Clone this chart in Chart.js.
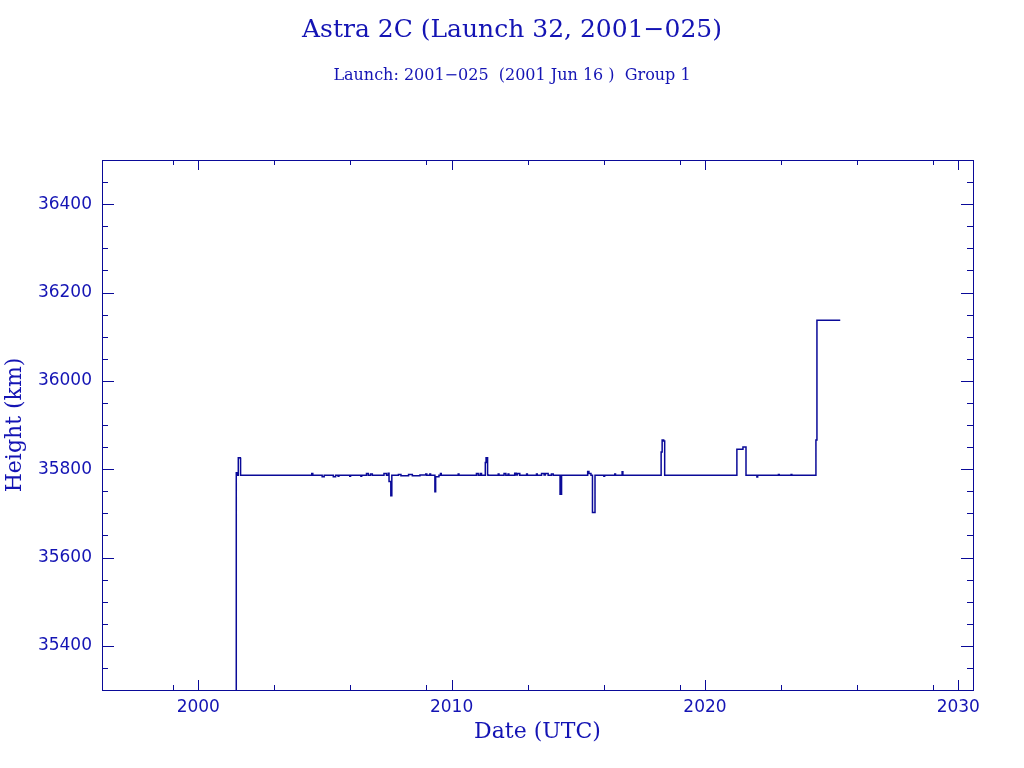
<!DOCTYPE html>
<html><head><meta charset="utf-8">
<script src="https://cdn.jsdelivr.net/npm/chart.js@4.4.1/dist/chart.umd.min.js"></script>
<style>html,body{margin:0;padding:0;background:#fff}#wrap{width:1024px;height:768px}</style>
</head><body><div id="wrap"><canvas id="c" width="1024" height="768"></canvas></div>
<script>
// ---- data (years, height in km) ----
const years = [
 2001.50,2001.50,2001.54,2001.58,2001.66,2001.67,
 2004.48,2004.52,2004.89,2004.97,2005.33,2005.42,2005.52,2005.55,2005.98,2006.01,
 2006.42,2006.45,2006.64,2006.71,2006.80,2006.87,2007.33,2007.43,2007.50,2007.53,
 2007.60,2007.64,2007.90,2008.00,2008.30,2008.45,2008.75,2008.98,2009.02,2009.14,
 2009.17,2009.34,2009.37,2009.50,2009.56,2009.59,2010.26,2010.29,2010.98,2011.05,
 2011.13,2011.18,2011.33,2011.36,2011.42,2011.45,2011.84,2011.87,2012.07,2012.14,
 2012.23,2012.26,2012.49,2012.55,2012.60,2012.69,2012.96,2012.99,2013.35,2013.38,
 2013.55,2013.65,2013.70,2013.81,2013.94,2014.01,2014.28,2014.34,2015.37,2015.42,
 2015.50,2015.56,2015.66,2016.01,2016.04,2016.44,2016.47,2016.73,2016.76,2018.27,
 2018.31,2018.37,2018.41,2021.26,2021.50,2021.62,2022.05,2022.08,2022.90,2022.93,
 2023.40,2023.43,2024.38,2024.42,2025.34
];
const heights = [
 35000,35792,35786,35826,35824,35786,
 35790,35786,35783,35786,35783,35786,35784,35786,35784,35786,
 35784,35786,35790,35786,35789,35786,35790,35786,35791,35772,
 35740,35786,35788,35785,35788,35785,35787,35789,35786,35789,
 35786,35749,35783,35786,35790,35786,35789,35786,35790,35786,
 35790,35786,35815,35826,35787,35786,35789,35786,35790,35786,
 35789,35786,35791,35787,35790,35786,35789,35786,35789,35786,
 35790,35787,35790,35786,35789,35786,35743,35786,35795,35790,
 35786,35702,35786,35784,35786,35789,35786,35794,35786,35839,
 35866,35864,35786,35845,35850,35786,35782,35786,35788,35786,
 35788,35786,35866,36137,36137
];
// ---- axes ----
const xMajorTicks = [2000, 2010, 2020, 2030];
const xMinorTicks = [1999, 2003, 2006, 2009, 2013, 2016, 2019, 2023, 2026, 2029];
const yMajorTicks = [35400, 35600, 35800, 36000, 36200, 36400];
const yMinorTicks = [35350, 35450, 35500, 35550, 35650, 35700, 35750, 35850, 35900, 35950,
                     36050, 36100, 36150, 36250, 36300, 36350, 36450];
const xRange = [1996.2, 2030.58];
const yRange = [35300, 36500];
const titleText = 'Astra 2C (Launch 32, 2001\u2212025)';
const subtitleText = 'Launch: 2001\u2212025  (2001 Jun 16 )  Group 1';
const xTitle = 'Date (UTC)';
const yTitle = 'Height (km)';

const LINE = '#0a0a98';
const TEXT = '#1414b4';

const points = years.map((x, i) => ({x: x, y: heights[i]}));

const frameTicks = {
  id: 'frameTicks',
  afterDraw(chart) {
    const {ctx, chartArea: a, scales: {x, y}} = chart;
    ctx.save();
    ctx.strokeStyle = LINE;
    ctx.lineWidth = 1;
    ctx.strokeRect(a.left + 0.5, a.top + 0.5, a.right - a.left, a.bottom - a.top);
    ctx.beginPath();
    const xt = (v, len) => {
      const px = Math.round(x.getPixelForValue(v)) + 0.5;
      ctx.moveTo(px, a.bottom); ctx.lineTo(px, a.bottom - len);
      ctx.moveTo(px, a.top); ctx.lineTo(px, a.top + len);
    };
    const yt = (v, len) => {
      const py = Math.round(y.getPixelForValue(v)) + 0.5;
      ctx.moveTo(a.left, py); ctx.lineTo(a.left + len, py);
      ctx.moveTo(a.right, py); ctx.lineTo(a.right - len, py);
    };
    xMajorTicks.forEach(v => xt(v, 10));
    xMinorTicks.forEach(v => xt(v, 5));
    yMajorTicks.forEach(v => yt(v, 12));
    yMinorTicks.forEach(v => yt(v, 6));
    ctx.stroke();
    ctx.restore();
  }
};

new Chart(document.getElementById('c'), {
  type: 'line',
  data: {
    datasets: [{
      data: points,
      yAxisID: 'y',
      borderColor: LINE,
      borderWidth: 1.5,
      pointRadius: 0,
      stepped: true,
      fill: false
    }]
  },
  options: {
    responsive: false,
    animation: false,
    devicePixelRatio: 1,
    layout: {padding: 0},
    plugins: {
      legend: {display: false},
      tooltip: {enabled: false},
      title: {
        display: true, text: titleText, color: TEXT,
        font: {family: 'DejaVu Serif', size: 25, weight: 'normal', lineHeight: 1.2},
        padding: {top: 15, bottom: 0}
      },
      subtitle: {
        display: true, text: subtitleText, color: TEXT,
        font: {family: 'DejaVu Serif', size: 16, weight: 'normal', lineHeight: 1.2},
        padding: {top: 21.4, bottom: 74.4}
      }
    },
    scales: {
      x: {
        type: 'linear', min: xRange[0], max: xRange[1],
        afterBuildTicks: s => { s.ticks = xMajorTicks.map(v => ({value: v})); },
        afterFit: s => { s.height = 78; },
        grid: {display: false, drawTicks: false},
        border: {display: false},
        ticks: {color: TEXT, padding: 7, maxRotation: 0, autoSkip: false,
          font: {family: 'DejaVu Sans', size: 17},
          callback: v => String(v)},
        title: {display: true, text: xTitle, color: TEXT,
          font: {family: 'DejaVu Serif', size: 22, lineHeight: 1.2},
          padding: {top: 0, bottom: 23}}
      },
      y: {
        type: 'linear', position: 'left', min: yRange[0], max: yRange[1],
        afterBuildTicks: s => { s.ticks = yMajorTicks.map(v => ({value: v})); },
        afterFit: s => { s.width = 102; },
        grid: {display: false, drawTicks: false},
        border: {display: false},
        ticks: {color: TEXT, padding: 10, autoSkip: false,
          font: {family: 'DejaVu Sans', size: 17},
          callback: v => String(v)},
        title: {display: true, text: yTitle, color: TEXT,
          font: {family: 'DejaVu Serif', size: 22, lineHeight: 1.2},
          padding: {top: 2, bottom: 0}}
      },
      yRight: {
        type: 'linear', position: 'right', min: yRange[0], max: yRange[1],
        afterFit: s => { s.width = 51; },
        grid: {display: false, drawTicks: false},
        border: {display: false},
        ticks: {display: false},
        title: {display: false}
      }
    }
  },
  plugins: [frameTicks]
});
</script>
</body></html>
